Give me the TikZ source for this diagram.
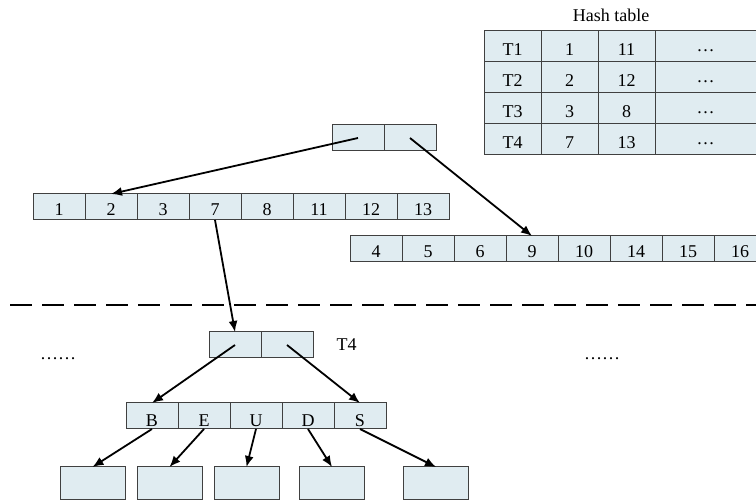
\documentclass[tikz,border=0pt]{standalone}
\usepackage{fontspec}
\setmainfont{Liberation Serif}
\usetikzlibrary{positioning,arrows.meta}

\definecolor{cellfill}{HTML}{E0ECF1}
\definecolor{cellline}{HTML}{404040}

\begin{document}
\begin{tikzpicture}[
  x=1pt, y=-1pt,
  font=\fontsize{18}{21}\selectfont,
  cell/.style={
    draw=cellline,
    fill=cellfill,
    line width=1pt,
    inner sep=0pt,
    outer sep=0pt,
    text height=17pt, text depth=0pt,
    minimum width=52pt,
    minimum height=26pt},
  hcell/.style={cell, text height=18pt, minimum height=31pt, minimum width=57pt},
  letter/.style={cell, text height=21pt},
  leaf/.style={cell, minimum width=65pt, minimum height=33pt},
  link/.style={
    -{Latex[length=11pt,width=9pt]},
    line width=1.8pt}
  ]
    \useasboundingbox (0,0) rectangle (756,502);

    % hash table
    \node (title) at (611,15) {Hash table};
    \foreach \t/\p/\q [count=\r] in {T1/1/11,T2/2/12,T3/3/8,T4/7/13}{
        \node[hcell] (h\r a) at (512.5,15.5+31*\r) {\t};
        \node[hcell, right=0pt of h\r a] (h\r b) {\p};
        \node[hcell, right=0pt of h\r b] (h\r c) {\q};
        \node[hcell, right=0pt of h\r c, minimum width=101pt, text height=11pt] (h\r d) {\dots};
    }

    % upper tree
    \node[cell] (up1) at (358,138) {};
    \node[cell, right=0pt of up1] (up2) {};
    \foreach \v [count=\i] in {1,2,3,7,8,11,12,13}
        \node[cell] (a\i) at (7+52*\i,207) {\v};
    \foreach \v [count=\i] in {4,5,6,9,10,14,15,16}
        \node[cell] (b\i) at (324+52*\i,249) {\v};
    \draw[link] (up1.center) -- (a2.north);
    \draw[link] (up2.center) -- (b4.north);

    \draw[line width=2pt, dash pattern=on 22pt off 10pt] (10,305) -- (756,305);

    % lower tree
    \node[cell] (lo1) at (235,345) {};
    \node[cell, right=0pt of lo1] (lo2) {};
    \node[right=20pt of lo2] (t4) {T4};
    \node (dl) at (58,359) {\dots\dots};
    \node (dr) at (602,359) {\dots\dots};
    \foreach \v [count=\i] in {B,E,U,D,S}
        \node[letter] (c\i) at (100+52*\i,416) {\v};
    \foreach \x [count=\i] in {92.5,169.5,246.5,332,436}
        \node[leaf] (d\i) at (\x,483.5) {};

    \draw[link] (a4.south) -- (lo1.north);
    \draw[link] (lo1.center) -- (c1.north);
    \draw[link] (lo2.center) -- (c5.north);
    \foreach \i in {1,...,5}
        \draw[link] (c\i.south) -- (d\i.north);
\end{tikzpicture}
\end{document}
